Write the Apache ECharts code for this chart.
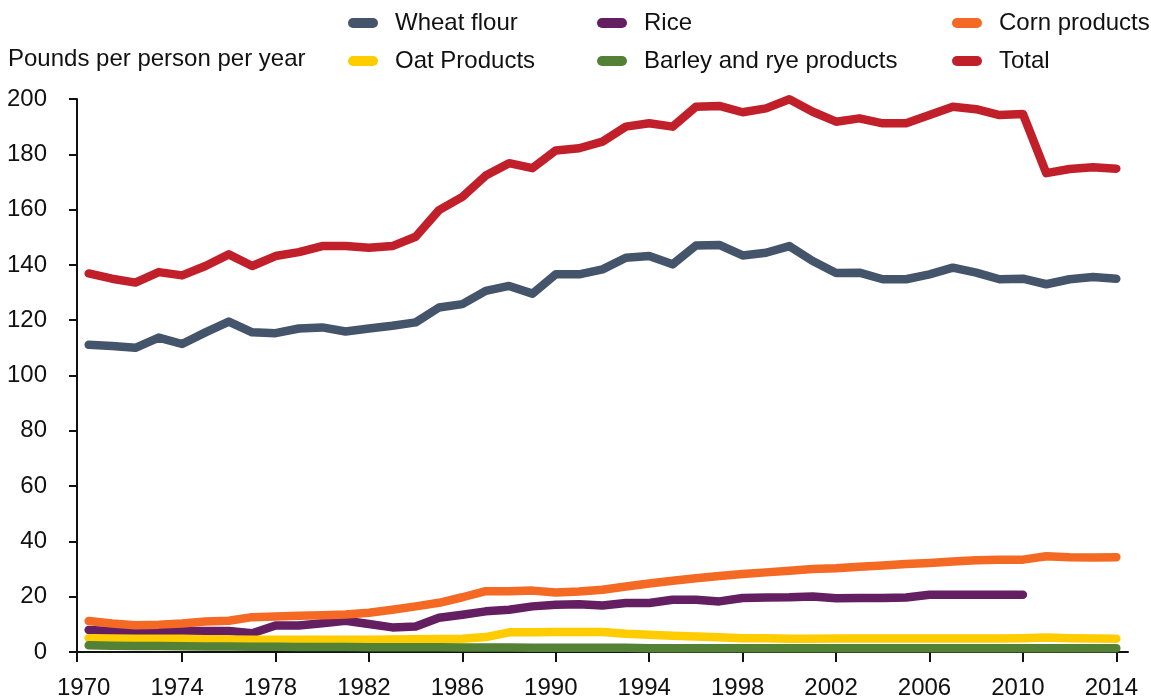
<!DOCTYPE html>
<html>
<head>
<meta charset="utf-8">
<script src="https://cdn.jsdelivr.net/npm/echarts@6/dist/echarts.min.js"></script>
<style>
    html, body { margin: 0; padding: 0; background: #fff; }
    #chart { width: 1151px; height: 700px; }
</style>
</head>
<body>
<div id="chart"></div>
<script>
// Years 1970-2014
const years = [];
for (let y = 1970; y <= 2014; y++) years.push(y);

const tickYears = [1970, 1974, 1978, 1982, 1986, 1990, 1994, 1998, 2002, 2006, 2010, 2014];

const wheatFlour = [111.1, 110.7, 110.0, 113.7, 111.4, 115.6, 119.5, 115.6, 115.3, 117.0,
    117.4, 115.9, 117.0, 118.0, 119.2, 124.6, 125.8, 130.6, 132.4, 129.6,
    136.6, 136.6, 138.4, 142.6, 143.2, 140.2, 147.0, 147.2, 143.4, 144.4,
    146.8, 141.4, 137.1, 137.2, 134.8, 134.8, 136.6, 139.0, 137.2, 134.8,
    135.0, 133.0, 134.8, 135.6, 135.0];

const rice = [8.0, 7.6, 7.4, 7.5, 7.6, 7.6, 7.6, 6.8, 9.6, 9.6,
    10.4, 11.3, 10.1, 8.9, 9.2, 12.4, 13.5, 14.7, 15.3, 16.5,
    17.1, 17.3, 16.8, 17.7, 17.7, 18.9, 18.9, 18.3, 19.5, 19.7,
    19.8, 20.1, 19.4, 19.5, 19.5, 19.7, 20.7, 20.7, 20.7, 20.7,
    20.7, null, null, null, null];

const cornProducts = [11.2, 10.3, 9.7, 9.9, 10.3, 11.0, 11.3, 12.6, 12.8, 13.1,
    13.3, 13.6, 14.2, 15.3, 16.5, 17.8, 19.8, 22.0, 22.0, 22.2,
    21.5, 21.9, 22.5, 23.7, 24.8, 25.8, 26.7, 27.5, 28.2, 28.8,
    29.4, 30.0, 30.3, 30.8, 31.3, 31.8, 32.2, 32.7, 33.2, 33.4,
    33.4, 34.6, 34.3, 34.2, 34.3];

const oatProducts = [5.0, 4.9, 4.8, 4.8, 4.8, 4.6, 4.5, 4.4, 4.4, 4.4,
    4.4, 4.4, 4.4, 4.5, 4.6, 4.7, 4.8, 5.4, 7.1, 7.1,
    7.2, 7.2, 7.2, 6.6, 6.2, 5.9, 5.6, 5.3, 5.0, 5.0,
    4.8, 4.8, 4.9, 4.9, 4.9, 4.9, 4.9, 4.9, 4.9, 4.9,
    5.0, 5.2, 5.0, 4.9, 4.8];

const barleyRye = [2.4, 2.3, 2.2, 2.2, 2.1, 2.0, 2.0, 1.9, 1.9, 1.8,
    1.8, 1.8, 1.7, 1.7, 1.7, 1.7, 1.6, 1.6, 1.6, 1.5,
    1.5, 1.5, 1.5, 1.5, 1.4, 1.4, 1.4, 1.4, 1.4, 1.4,
    1.4, 1.4, 1.4, 1.4, 1.4, 1.4, 1.4, 1.4, 1.4, 1.4,
    1.4, 1.4, 1.4, 1.4, 1.4];

const total = [136.9, 135.0, 133.6, 137.4, 136.2, 139.6, 143.8, 139.6, 143.2, 144.6,
    146.8, 146.8, 146.2, 146.8, 150.2, 159.8, 164.6, 172.3, 176.8, 175.0,
    181.4, 182.2, 184.6, 190.0, 191.2, 190.0, 197.2, 197.5, 195.2, 196.6,
    199.9, 195.4, 191.8, 193.0, 191.2, 191.2, 194.2, 197.2, 196.3, 194.2,
    194.6, 173.2, 174.7, 175.3, 174.8];

const seriesDefs = [
    { name: 'Wheat flour', data: wheatFlour, color: '#44546A' },
    { name: 'Rice', data: rice, color: '#631F61' },
    { name: 'Corn products', data: cornProducts, color: '#F46923' },
    { name: 'Oat Products', data: oatProducts, color: '#FFCC00' },
    { name: 'Barley and rye products', data: barleyRye, color: '#538136' },
    { name: 'Total', data: total, color: '#C11F29' }
];

// legend layout: 3 columns x 2 rows
const legendPos = {
    'Wheat flour': [343, 5],
    'Rice': [592, 5],
    'Corn products': [947, 5],
    'Oat Products': [343, 43],
    'Barley and rye products': [592, 43],
    'Total': [947, 43]
};

const pill = 'path://M5,0 L25,0 A5,5 0 0 1 25,10 L5,10 A5,5 0 0 1 5,0 Z';

const chart = echarts.init(document.getElementById('chart'));

chart.setOption({
    animation: false,
    textStyle: { fontFamily: 'Liberation Sans, Arial, sans-serif' },
    title: {
        text: 'Pounds per person per year',
        left: 3,
        top: 42,
        textStyle: { fontSize: 24, fontWeight: 'normal', color: '#111' }
    },
    legend: seriesDefs.map(s => ({
        data: [{ name: s.name, icon: pill }],
        left: legendPos[s.name][0],
        top: legendPos[s.name][1],
        itemWidth: 30,
        itemHeight: 11,
        selectedMode: false,
        textStyle: { fontSize: 24, color: '#111', padding: [0, 0, 0, 12], lineHeight: 26 }
    })),
    grid: {
        left: 77,
        right: 23,
        top: 99,
        bottom: 46
    },
    xAxis: {
        type: 'value',
        min: 1969.5,
        max: 2014.5,
        splitLine: { show: false },
        axisLine: { show: true, lineStyle: { color: '#111', width: 2 } },
        axisTick: {
            show: true,
            length: 10,
            lineStyle: { color: '#111', width: 2 },
            customValues: [1969.5].concat(tickYears.slice(1))
        },
        axisLabel: {
            customValues: tickYears,
            formatter: v => String(Math.round(v)),
            fontSize: 24,
            color: '#111',
            margin: 24,
            padding: [0, 10, 0, 0]
        }
    },
    yAxis: {
        type: 'value',
        min: 0,
        max: 200,
        interval: 20,
        splitLine: { show: false },
        axisLine: { show: true, lineStyle: { color: '#111', width: 2 } },
        axisTick: { show: true, length: 8, lineStyle: { color: '#111', width: 2 } },
        axisLabel: { fontSize: 24, color: '#111', margin: 30 }
    },
    series: seriesDefs.map(s => ({
        name: s.name,
        type: 'line',
        data: years.map((y, i) => [y, s.data[i]]),
        showSymbol: false,
        connectNulls: false,
        itemStyle: { color: s.color },
        lineStyle: { color: s.color, width: 8.5, cap: 'round', join: 'round' }
    }))
});
</script>
</body>
</html>
